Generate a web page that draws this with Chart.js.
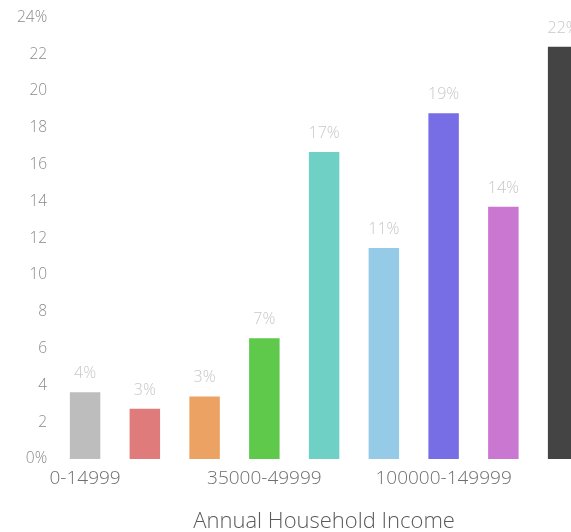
<!DOCTYPE html>
<html>
<head>
<meta charset="utf-8">
<script src="https://cdn.jsdelivr.net/npm/chart.js@4"></script>
<style>
  html, body { margin: 0; padding: 0; background: #fff; overflow: hidden; }
  #wrap { width: 593px; height: 532px; }
</style>
</head>
<body>
<div id="wrap"><canvas id="incomeChart"></canvas></div>
<script>
const categories = ['0-14999', '15000-24999', '25000-34999', '35000-49999', '50000-74999',
  '75000-99999', '100000-149999', '150000-199999', '200000+'];
const shares = [3.63, 2.73, 3.4, 6.56, 16.68, 11.46, 18.79, 13.7, 22.4];
const barColors = ['#bdbdbd', '#e07b7b', '#eba263', '#5ec94b', '#6fd0c6', '#95cbe6', '#776ee6', '#c977d0', '#444444'];
const yTicks = [0, 2, 4, 6, 8, 10, 12, 14, 16, 18, 20, 22, 24];

const FONT = "'Open Sans'";

const valueLabels = {
  id: 'valueLabels',
  afterDatasetsDraw(chart) {
    const ctx = chart.ctx;
    const meta = chart.getDatasetMeta(0);
    ctx.save();
    ctx.font = '300 16px ' + FONT;
    ctx.fillStyle = '#c8c8c8';
    ctx.textAlign = 'center';
    ctx.textBaseline = 'alphabetic';
    meta.data.forEach((bar, i) => {
      ctx.fillText(Math.round(shares[i]) + '%', bar.x, bar.y - 14);
    });
    ctx.restore();
  }
};

new Chart(document.getElementById('incomeChart').getContext('2d'), {
  type: 'bar',
  data: {
    labels: categories,
    datasets: [{
      data: shares,
      backgroundColor: barColors,
      borderWidth: 0,
      categoryPercentage: 1,
      barPercentage: 0.51
    }]
  },
  options: {
    responsive: true, maintainAspectRatio: false, animation: false,
    layout: { padding: { top: 13, left: 9, right: 0, bottom: -2 } },
    plugins: { legend: { display: false }, tooltip: { enabled: false } },
    scales: {
      x: {
        grid: { display: false, drawTicks: false },
        border: { display: false },
        ticks: {
          color: '#6e6e6e', font: { family: FONT, size: 19, weight: 300 }, maxRotation: 0,
          autoSkip: false, padding: 8,
          callback: (v, i) => (i % 3 === 0 ? categories[i] : '')
        },
        title: {
          display: true, text: 'Annual Household Income', color: '#5a5a5a',
          font: { family: FONT, size: 22, weight: 300, lineHeight: 1.1 }, padding: { top: 12, bottom: 0 }
        }
      },
      y: {
        min: 0, max: 24,
        afterBuildTicks: axis => { axis.ticks = yTicks.map(v => ({ value: v })); },
        grid: { display: false, drawTicks: false },
        border: { display: false },
        ticks: {
          color: '#8a8a8a', font: { family: FONT, size: 15.5, weight: 300 }, padding: 8,
          callback: v => (v === 0 || v === 24 ? v + '%' : v)
        }
      }
    }
  },
  plugins: [valueLabels]
});
</script>
</body>
</html>
